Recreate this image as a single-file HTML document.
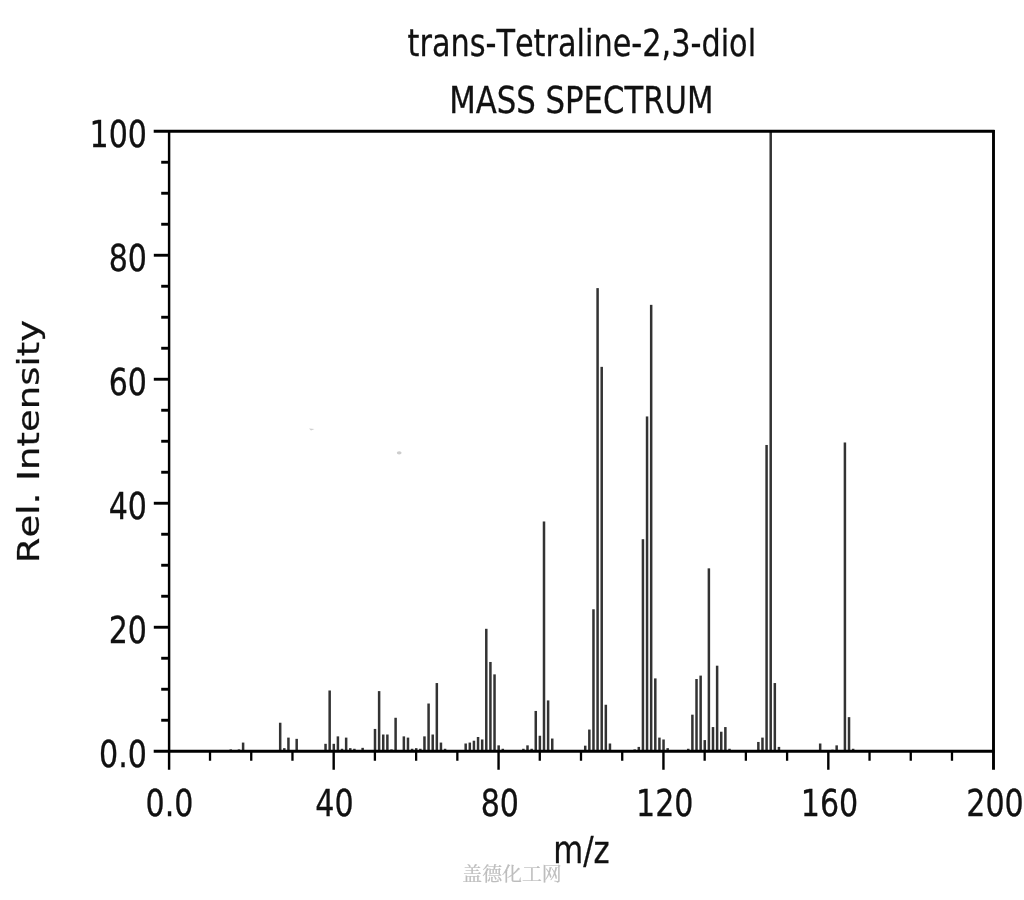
<!DOCTYPE html>
<html lang="en">
<head>
<meta charset="utf-8">
<title>trans-Tetraline-2,3-diol MASS SPECTRUM</title>
<style>
html,body{margin:0;padding:0;background:#fff;}
body{width:1024px;height:900px;overflow:hidden;}
svg{display:block;}
.t{font-family:"DejaVu Sans","Liberation Sans",sans-serif;fill:#111;stroke:#111;stroke-width:.3px;font-kerning:none;font-variant-ligatures:none;}
.wm{font-family:"Liberation Serif","Noto Serif CJK SC","Noto Sans CJK SC",serif;fill:#bdbdbd;stroke:#bdbdbd;stroke-width:.25px;}
</style>
</head>
<body>
<svg width="1024" height="900" viewBox="0 0 1024 900">
<rect x="0" y="0" width="1024" height="900" fill="#ffffff"/>

<g fill="#333">
<rect x="229.48" y="749.39" width="2.50" height="1.86"/>
<rect x="237.72" y="749.39" width="2.50" height="1.86"/>
<rect x="241.85" y="742.57" width="2.50" height="8.68"/>
<rect x="278.94" y="722.73" width="2.50" height="28.52"/>
<rect x="283.07" y="748.15" width="2.50" height="3.10"/>
<rect x="287.19" y="737.61" width="2.50" height="13.64"/>
<rect x="295.43" y="738.85" width="2.50" height="12.40"/>
<rect x="324.29" y="743.81" width="2.50" height="7.44"/>
<rect x="328.41" y="690.49" width="2.50" height="60.76"/>
<rect x="332.53" y="743.81" width="2.50" height="7.44"/>
<rect x="336.65" y="736.37" width="2.50" height="14.88"/>
<rect x="340.77" y="748.77" width="2.50" height="2.48"/>
<rect x="344.90" y="737.61" width="2.50" height="13.64"/>
<rect x="349.02" y="748.15" width="2.50" height="3.10"/>
<rect x="353.14" y="748.77" width="2.50" height="2.48"/>
<rect x="361.38" y="747.84" width="2.50" height="3.41"/>
<rect x="373.75" y="728.93" width="2.50" height="22.32"/>
<rect x="377.87" y="691.11" width="2.50" height="60.14"/>
<rect x="381.99" y="734.51" width="2.50" height="16.74"/>
<rect x="386.12" y="734.51" width="2.50" height="16.74"/>
<rect x="390.24" y="749.39" width="2.50" height="1.86"/>
<rect x="394.36" y="717.77" width="2.50" height="33.48"/>
<rect x="402.60" y="736.37" width="2.50" height="14.88"/>
<rect x="406.73" y="737.61" width="2.50" height="13.64"/>
<rect x="410.85" y="748.77" width="2.50" height="2.48"/>
<rect x="414.97" y="748.15" width="2.50" height="3.10"/>
<rect x="419.09" y="748.77" width="2.50" height="2.48"/>
<rect x="423.21" y="736.37" width="2.50" height="14.88"/>
<rect x="427.34" y="703.51" width="2.50" height="47.74"/>
<rect x="431.46" y="734.51" width="2.50" height="16.74"/>
<rect x="435.58" y="683.05" width="2.50" height="68.20"/>
<rect x="439.70" y="742.57" width="2.50" height="8.68"/>
<rect x="443.82" y="748.77" width="2.50" height="2.48"/>
<rect x="464.43" y="743.50" width="2.50" height="7.75"/>
<rect x="468.56" y="742.57" width="2.50" height="8.68"/>
<rect x="472.68" y="740.71" width="2.50" height="10.54"/>
<rect x="476.80" y="736.99" width="2.50" height="14.26"/>
<rect x="480.92" y="739.47" width="2.50" height="11.78"/>
<rect x="485.04" y="628.80" width="2.50" height="122.45"/>
<rect x="489.17" y="661.97" width="2.50" height="89.28"/>
<rect x="493.29" y="674.37" width="2.50" height="76.88"/>
<rect x="497.41" y="745.36" width="2.50" height="5.89"/>
<rect x="501.53" y="748.77" width="2.50" height="2.48"/>
<rect x="522.14" y="748.77" width="2.50" height="2.48"/>
<rect x="526.26" y="745.36" width="2.50" height="5.89"/>
<rect x="530.39" y="748.77" width="2.50" height="2.48"/>
<rect x="534.51" y="710.95" width="2.50" height="40.30"/>
<rect x="538.63" y="735.75" width="2.50" height="15.50"/>
<rect x="542.75" y="521.48" width="2.50" height="229.77"/>
<rect x="546.87" y="700.41" width="2.50" height="50.84"/>
<rect x="551.00" y="738.54" width="2.50" height="12.71"/>
<rect x="583.97" y="745.67" width="2.50" height="5.58"/>
<rect x="588.09" y="729.55" width="2.50" height="21.70"/>
<rect x="592.22" y="609.27" width="2.50" height="141.98"/>
<rect x="596.34" y="288.11" width="2.50" height="463.14"/>
<rect x="600.46" y="366.85" width="2.50" height="384.40"/>
<rect x="604.58" y="704.75" width="2.50" height="46.50"/>
<rect x="608.70" y="743.50" width="2.50" height="7.75"/>
<rect x="633.44" y="749.39" width="2.50" height="1.86"/>
<rect x="637.56" y="746.91" width="2.50" height="4.34"/>
<rect x="641.68" y="539.21" width="2.50" height="212.04"/>
<rect x="645.80" y="416.45" width="2.50" height="334.80"/>
<rect x="649.92" y="304.85" width="2.50" height="446.40"/>
<rect x="654.05" y="678.40" width="2.50" height="72.85"/>
<rect x="658.17" y="737.61" width="2.50" height="13.64"/>
<rect x="662.29" y="739.47" width="2.50" height="11.78"/>
<rect x="666.41" y="748.15" width="2.50" height="3.10"/>
<rect x="687.02" y="748.77" width="2.50" height="2.48"/>
<rect x="691.14" y="714.67" width="2.50" height="36.58"/>
<rect x="695.27" y="679.02" width="2.50" height="72.23"/>
<rect x="699.39" y="675.61" width="2.50" height="75.64"/>
<rect x="703.51" y="740.09" width="2.50" height="11.16"/>
<rect x="707.63" y="568.35" width="2.50" height="182.90"/>
<rect x="711.75" y="727.07" width="2.50" height="24.18"/>
<rect x="715.88" y="665.69" width="2.50" height="85.56"/>
<rect x="720.00" y="731.72" width="2.50" height="19.53"/>
<rect x="724.12" y="727.07" width="2.50" height="24.18"/>
<rect x="728.24" y="748.77" width="2.50" height="2.48"/>
<rect x="757.10" y="741.95" width="2.50" height="9.30"/>
<rect x="761.22" y="737.61" width="2.50" height="13.64"/>
<rect x="765.34" y="444.97" width="2.50" height="306.28"/>
<rect x="769.46" y="131.25" width="2.50" height="620.00"/>
<rect x="773.58" y="683.05" width="2.50" height="68.20"/>
<rect x="777.71" y="746.91" width="2.50" height="4.34"/>
<rect x="818.93" y="743.50" width="2.50" height="7.75"/>
<rect x="831.29" y="749.70" width="2.50" height="1.55"/>
<rect x="835.41" y="745.36" width="2.50" height="5.89"/>
<rect x="843.66" y="442.49" width="2.50" height="308.76"/>
<rect x="847.78" y="717.15" width="2.50" height="34.10"/>
<rect x="851.90" y="748.77" width="2.50" height="2.48"/>
</g>
<g stroke="#000" fill="none">
<path d="M153.70 131.25 H994.50" stroke-width="3.1"/>
<path d="M153.70 751.25 H994.50" stroke-width="3.1"/>
<path d="M169.10 129.95 V769.75" stroke-width="2.45"/>
<path d="M993.50 130.05 V769.75" stroke-width="2.9"/>
<path d="M161.20 720.25 H169.10" stroke-width="2.9"/>
<path d="M161.20 689.25 H169.10" stroke-width="2.9"/>
<path d="M161.20 658.25 H169.10" stroke-width="2.9"/>
<path d="M153.80 627.25 H169.10" stroke-width="2.9"/>
<path d="M161.20 596.25 H169.10" stroke-width="2.9"/>
<path d="M161.20 565.25 H169.10" stroke-width="2.9"/>
<path d="M161.20 534.25 H169.10" stroke-width="2.9"/>
<path d="M153.80 503.25 H169.10" stroke-width="2.9"/>
<path d="M161.20 472.25 H169.10" stroke-width="2.9"/>
<path d="M161.20 441.25 H169.10" stroke-width="2.9"/>
<path d="M161.20 410.25 H169.10" stroke-width="2.9"/>
<path d="M153.80 379.25 H169.10" stroke-width="2.9"/>
<path d="M161.20 348.25 H169.10" stroke-width="2.9"/>
<path d="M161.20 317.25 H169.10" stroke-width="2.9"/>
<path d="M161.20 286.25 H169.10" stroke-width="2.9"/>
<path d="M153.80 255.25 H169.10" stroke-width="2.9"/>
<path d="M161.20 224.25 H169.10" stroke-width="2.9"/>
<path d="M161.20 193.25 H169.10" stroke-width="2.9"/>
<path d="M161.20 162.25 H169.10" stroke-width="2.9"/>
<path d="M210.02 751.25 V760.75" stroke-width="2.3"/>
<path d="M251.24 751.25 V760.75" stroke-width="2.3"/>
<path d="M292.46 751.25 V760.75" stroke-width="2.3"/>
<path d="M333.68 751.25 V769.75" stroke-width="2.4"/>
<path d="M374.90 751.25 V760.75" stroke-width="2.3"/>
<path d="M416.12 751.25 V760.75" stroke-width="2.3"/>
<path d="M457.34 751.25 V760.75" stroke-width="2.3"/>
<path d="M498.56 751.25 V769.75" stroke-width="2.4"/>
<path d="M539.78 751.25 V760.75" stroke-width="2.3"/>
<path d="M581.00 751.25 V760.75" stroke-width="2.3"/>
<path d="M622.22 751.25 V760.75" stroke-width="2.3"/>
<path d="M663.44 751.25 V769.75" stroke-width="2.4"/>
<path d="M704.66 751.25 V760.75" stroke-width="2.3"/>
<path d="M745.88 751.25 V760.75" stroke-width="2.3"/>
<path d="M787.10 751.25 V760.75" stroke-width="2.3"/>
<path d="M828.32 751.25 V769.75" stroke-width="2.4"/>
<path d="M869.54 751.25 V760.75" stroke-width="2.3"/>
<path d="M910.76 751.25 V760.75" stroke-width="2.3"/>
<path d="M951.98 751.25 V760.75" stroke-width="2.3"/>
</g>
<text class="t" transform="translate(147.00 766.65) scale(0.8030 1)" font-size="37.5" text-anchor="end">0.0</text>
<text class="t" transform="translate(147.00 642.65) scale(0.8030 1)" font-size="37.5" text-anchor="end">20</text>
<text class="t" transform="translate(147.00 518.65) scale(0.8030 1)" font-size="37.5" text-anchor="end">40</text>
<text class="t" transform="translate(147.00 394.65) scale(0.8030 1)" font-size="37.5" text-anchor="end">60</text>
<text class="t" transform="translate(147.00 270.65) scale(0.8030 1)" font-size="37.5" text-anchor="end">80</text>
<text class="t" transform="translate(147.00 146.65) scale(0.8030 1)" font-size="37.5" text-anchor="end">100</text>
<text class="t" transform="translate(169.50 816.20) scale(0.8030 1)" font-size="37.5" text-anchor="middle">0.0</text>
<text class="t" transform="translate(334.38 816.20) scale(0.8030 1)" font-size="37.5" text-anchor="middle">40</text>
<text class="t" transform="translate(499.86 816.20) scale(0.8030 1)" font-size="37.5" text-anchor="middle">80</text>
<text class="t" transform="translate(664.74 816.20) scale(0.8030 1)" font-size="37.5" text-anchor="middle">120</text>
<text class="t" transform="translate(829.52 816.20) scale(0.8030 1)" font-size="37.5" text-anchor="middle">160</text>
<text class="t" transform="translate(995.00 816.20) scale(0.8030 1)" font-size="37.5" text-anchor="middle">200</text>
<text class="t" transform="translate(581.80 55.70) scale(0.8090 1)" font-size="37.5" text-anchor="middle">trans-Tetraline-2,3-diol</text>
<text class="t" transform="translate(581.40 112.90) scale(0.8200 1)" font-size="37.5" text-anchor="middle">MASS SPECTRUM</text>
<text class="t" transform="translate(581.40 863.40) scale(0.8200 1)" font-size="37.5" text-anchor="middle">m/z</text>
<text class="t" transform="translate(38.7 441.5) rotate(-90) scale(0.987 0.8120)" font-size="37.5" text-anchor="middle">Rel. Intensity</text>
<path d="M309 428.4l5.5 .6l-3.5 1.6z" fill="#cfcfcf"/><ellipse cx="399.2" cy="452.8" rx="2.4" ry="1.6" fill="#cdcdcd"/>
<text class="wm" transform="translate(512 881) scale(1 0.95)" font-size="19.9" text-anchor="middle">盖德化工网</text>
</svg>
</body>
</html>
